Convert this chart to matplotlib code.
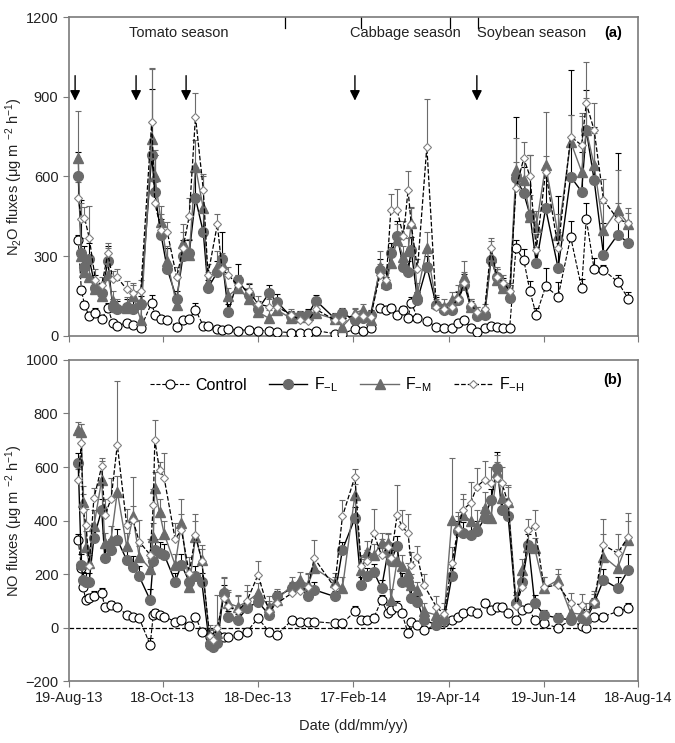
import numpy as np
import pandas as pd
import matplotlib
matplotlib.use("Agg")
import matplotlib.pyplot as plt
import matplotlib.dates as mdates

plt.rcParams["font.family"] = ["Liberation Sans", "DejaVu Sans"]
plt.rcParams["mathtext.default"] = "regular"

# %% data (sampling day = days after 19-Aug-13)
start = pd.Timestamp("2013-08-19")
tick_dates = ["2013-08-19", "2013-10-18", "2013-12-18", "2014-02-17",
              "2014-04-19", "2014-06-19", "2014-08-18"]

days_a = [6, 8, 10, 13, 17, 21, 25, 28, 31, 37, 41, 46, 53, 55, 59, 63, 69, 73, 77, 81,
          86, 89, 95, 98, 102, 108, 115, 121, 128, 133, 142, 148, 153, 158, 170, 175, 183, 188, 193, 199,
          203, 206, 210, 214, 217, 219, 223, 229, 235, 240, 245, 249, 253, 257, 261, 266, 270, 274, 278, 282,
          286, 291, 295, 299, 305, 313, 321, 328, 331, 336, 342, 351, 358]

n2o_control = [361, 173, 117, 75, 86, 64, 105, 49, 38, 49, 41, 30, 125, 79, 64, 60, 35, 60, 64, 98,
               38, 38, 26, 23, 26, 20, 23, 20, 20, 16, 12, 10, 10, 20, 8, 8, 26, 20, 30, 105,
               98, 105, 79, 98, 68, 125, 68, 57, 34, 30, 30, 49, 60, 30, 15, 30, 38, 34, 30, 30,
               330, 286, 167, 79, 186, 148, 372, 180, 440, 252, 248, 204, 139]
n2o_fl = [602, 310, 260, 290, 180, 160, 280, 110, 100, 110, 100, 120, 680, 540, 380, 250, 140, 300, 310, 518,
          390, 180, 240, 290, 90, 210, 155, 100, 160, 129, 73, 73, 80, 133, 66, 85, 60, 66, 79, 248,
          192, 311, 374, 261, 240, 323, 135, 261, 117, 98, 98, 135, 192, 110, 73, 79, 286, 223, 186, 142,
          593, 537, 455, 273, 480, 255, 599, 543, 775, 587, 305, 380, 351]
n2o_fm = [668, 300, 240, 220, 175, 150, 230, 130, 110, 105, 150, 60, 740, 600, 430, 280, 115, 350, 305, 636,
          480, 200, 260, 270, 150, 180, 140, 90, 66, 98, 66, 70, 79, 85, 63, 35, 85, 98, 60, 261,
          198, 273, 361, 298, 320, 424, 160, 330, 123, 110, 135, 150, 223, 110, 90, 90, 298, 211, 180, 160,
          624, 587, 449, 411, 643, 380, 731, 618, 775, 643, 399, 474, 420]
n2o_fh = [520, 440, 445, 370, 210, 190, 310, 215, 220, 175, 160, 170, 805, 500, 400, 390, 220, 330, 450, 825,
          550, 230, 420, 250, 230, 190, 170, 120, 110, 110, 80, 60, 55, 100, 60, 60, 80, 75, 70, 230,
          210, 474, 474, 374, 549, 420, 250, 712, 110, 100, 110, 140, 200, 120, 90, 100, 330, 220, 200, 170,
          555, 668, 600, 324, 618, 330, 750, 718, 875, 775, 512, 440, 424]

n2o_control_err = [20, 15, 15, 15, 20, 10, 20, 10, 10, 10, 10, 10, 30, 15, 10, 10, 10, 10, 10, 25,
                   10, 10, 8, 8, 8, 6, 6, 6, 6, 6, 5, 5, 5, 6, 4, 4, 6, 6, 6, 15,
                   10, 15, 12, 15, 10, 20, 10, 8, 6, 6, 6, 10, 10, 6, 6, 6, 6, 6, 6, 6,
                   30, 40, 40, 25, 70, 55, 60, 35, 60, 40, 20, 25, 25]
n2o_fl_err = [90, 200, 80, 60, 50, 40, 60, 30, 30, 30, 40, 30, 250, 140, 60, 80, 30, 60, 50, 110,
              80, 30, 40, 100, 30, 60, 40, 30, 30, 30, 20, 20, 20, 20, 20, 20, 20, 20, 20, 40,
              30, 40, 60, 40, 40, 50, 30, 40, 30, 20, 20, 30, 40, 20, 20, 20, 50, 30, 30, 30,
              230, 100, 225, 60, 150, 270, 400, 150, 150, 200, 120, 310, 80]
n2o_fm_err = [180, 70, 60, 50, 40, 40, 100, 40, 30, 40, 40, 40, 270, 100, 60, 60, 40, 70, 60, 100,
              130, 40, 60, 40, 30, 50, 40, 30, 30, 30, 20, 20, 20, 20, 20, 20, 20, 20, 20, 60,
              40, 60, 60, 40, 50, 60, 40, 60, 30, 30, 30, 40, 60, 30, 20, 20, 60, 40, 30, 30,
              120, 80, 80, 60, 200, 80, 100, 210, 120, 120, 100, 150, 60]
n2o_fh_err = [60, 60, 40, 120, 40, 30, 40, 30, 30, 30, 40, 40, 200, 80, 60, 40, 40, 60, 70, 90,
              50, 40, 40, 40, 30, 40, 30, 30, 30, 20, 20, 20, 20, 20, 20, 20, 20, 20, 20, 40,
              40, 60, 80, 60, 70, 60, 40, 180, 30, 20, 20, 30, 40, 20, 20, 20, 40, 40, 30, 30,
              100, 60, 80, 60, 60, 60, 80, 120, 157, 100, 80, 60, 40]

days_b = [6, 8, 9, 11, 13, 16, 21, 23, 27, 31, 37, 41, 45, 52, 54, 55, 58, 61, 68, 72,
          77, 81, 85, 90, 92, 95, 99, 102, 108, 114, 121, 128, 133, 143, 148, 153, 157, 170, 175, 183,
          187, 191, 195, 200, 204, 206, 210, 213, 217, 219, 223, 227, 235, 240, 245, 249, 252, 257, 261, 266,
          270, 274, 277, 281, 286, 290, 294, 298, 304, 313, 321, 328, 331, 336, 342, 351, 358]

no_control = [328, 223, 150, 103, 110, 116, 128, 78, 85, 78, 47, 41, 35, -65, 47, 55, 47, 41, 22, 29,
              4, 41, -15, -34, -40, -27, -34, -34, -27, -15, 35, -15, -27, 29, 22, 22, 22, 16, 16, 60,
              29, 29, 35, 103, 54, 66, 78, 54, -21, 22, 10, -9, 10, 22, 29, 41, 54, 60, 54, 91,
              66, 78, 78, 54, 29, 66, 72, 29, 16, -2, 29, 4, -2, 41, 41, 60, 72]
no_fl = [614, 234, 178, 172, 172, 334, 440, 259, 290, 328, 253, 228, 191, 103, 250, 290, 280, 272, 172, 234,
         172, 191, 172, -65, -71, -59, 130, 41, 29, 72, 97, 47, 116, 147, 150, 116, 141, 116, 290, 409,
         160, 191, 209, 147, 278, 250, 303, 172, 172, 110, 97, 29, 10, 29, 191, 359, 353, 346, 359, 409,
         477, 596, 440, 415, 91, 172, 309, 91, 47, 35, 29, 35, 29, 91, 178, 147, 216]
no_fm = [739, 732, 470, 300, 240, 378, 552, 315, 328, 508, 303, 415, 265, 220, 340, 521, 430, 350, 234, 390,
         153, 340, 253, -40, -50, -20, 135, 91, 78, 97, 128, 78, 103, 160, 178, 160, 222, 172, 147, 496,
         215, 284, 271, 315, 315, 103, 250, 230, 203, 160, 141, 60, 47, 41, 402, 378, 421, 400, 378, 446,
         409, 583, 483, 471, 103, 215, 300, 296, 147, 178, 54, 50, 40, 97, 265, 222, 328]
no_fh = [552, 689, 440, 384, 230, 483, 602, 420, 480, 683, 384, 402, 321, 272, 458, 701, 589, 558, 330, 365,
         203, 346, 250, -30, -45, 0, 110, 80, 60, 100, 197, 60, 90, 130, 135, 153, 259, 150, 415, 564,
         230, 250, 353, 270, 300, 260, 421, 378, 353, 234, 265, 160, 78, 50, 240, 370, 440, 465, 527, 552,
         540, 560, 540, 465, 80, 153, 365, 378, 150, 160, 90, 85, 50, 95, 309, 278, 340]

no_control_err = [20, 15, 15, 15, 15, 20, 20, 15, 15, 15, 10, 10, 10, 25, 15, 15, 10, 10, 10, 10,
                  10, 10, 15, 10, 10, 10, 10, 10, 10, 10, 15, 10, 10, 10, 10, 10, 10, 10, 10, 20,
                  15, 15, 15, 20, 15, 20, 20, 15, 15, 15, 10, 10, 10, 10, 10, 10, 10, 10, 10, 15,
                  15, 15, 15, 10, 10, 15, 15, 10, 10, 10, 10, 10, 10, 10, 15, 15, 20]
no_fl_err = [40, 40, 30, 30, 30, 40, 40, 40, 40, 40, 40, 40, 40, 40, 40, 40, 40, 40, 30, 40,
             30, 40, 30, 20, 20, 20, 30, 20, 20, 20, 20, 20, 20, 20, 20, 20, 30, 20, 30, 40,
             30, 30, 30, 30, 40, 40, 40, 30, 30, 30, 20, 20, 20, 20, 30, 40, 40, 40, 40, 40,
             40, 60, 40, 40, 30, 30, 40, 30, 20, 20, 20, 20, 20, 20, 40, 40, 60]
no_fm_err = [30, 30, 60, 60, 40, 60, 70, 40, 50, 60, 50, 40, 40, 40, 50, 60, 50, 50, 40, 90,
             40, 60, 40, 30, 30, 30, 50, 40, 40, 40, 40, 40, 40, 30, 30, 40, 40, 30, 40, 40,
             40, 40, 40, 40, 40, 40, 40, 40, 40, 40, 30, 30, 30, 30, 230, 40, 60, 60, 60, 60,
             60, 60, 60, 60, 30, 40, 60, 40, 40, 40, 30, 30, 30, 30, 140, 70, 100]
no_fh_err = [40, 70, 60, 60, 40, 40, 30, 60, 80, 240, 60, 160, 80, 60, 60, 75, 30, 95, 60, 60,
             60, 80, 60, 40, 40, 120, 80, 60, 60, 60, 50, 40, 40, 40, 40, 50, 70, 40, 60, 30,
             40, 40, 90, 60, 50, 50, 110, 60, 70, 50, 40, 40, 40, 40, 60, 60, 60, 80, 70, 70,
             60, 60, 60, 60, 40, 60, 40, 60, 40, 40, 40, 40, 40, 40, 40, 70, 60]

season_marks = [138, 187, 244, 262]
fert_days = [4, 43, 75, 183, 261]
season_labels = [("Tomato season", 70), ("Cabbage season", 215), ("Soybean season", 296)]

# %%
grey = "#6b6b6b"
styles = {
    "Control": dict(color="black", ls="--", lw=0.8, marker="o", ms=6.5, mfc="white", mec="black", mew=0.8),
    "F-L": dict(color="black", ls="-", lw=1.0, marker="o", ms=7, mfc=grey, mec=grey),
    "F-M": dict(color=grey, ls="-", lw=1.0, marker="^", ms=7, mfc=grey, mec=grey),
    "F-H": dict(color="black", ls="--", lw=0.9, marker="D", ms=4.5, mfc="white", mec="#808080", mew=0.8),
}
err_colors = {"Control": "black", "F-L": "black", "F-M": grey, "F-H": grey}
labels = {"Control": "Control", "F-L": r"F$_{-L}$", "F-M": r"F$_{-M}$", "F-H": r"F$_{-H}$"}


def to_dates(days):
    return start + pd.to_timedelta(days, unit="D")


def draw(ax, days, series):
    x = to_dates(days)
    for key, (vals, err) in series.items():
        ax.errorbar(x, vals, yerr=[np.zeros(len(err)), err], fmt="none",
                    ecolor=err_colors[key], elinewidth=0.8, capsize=2.5, capthick=0.8, zorder=2)
        ax.plot(x, vals, label=labels[key], zorder=3, **styles[key])


def style_axes(ax):
    for s in ax.spines.values():
        s.set_color("#7a7a7a")
        s.set_linewidth(1.2)
    ax.tick_params(direction="out", color="#7a7a7a", labelsize=10.5, labelcolor="#222222", length=4)
    ax.set_xlim(pd.Timestamp(tick_dates[0]), pd.Timestamp(tick_dates[-1]))
    ax.set_xticks(pd.to_datetime(tick_dates))
    ax.xaxis.set_major_formatter(mdates.DateFormatter("%d-%b-%y"))
    ax.yaxis.set_label_coords(-0.077, 0.5)


fig = plt.figure(figsize=(6.75, 7.43), dpi=100)
ax1 = fig.add_axes([0.102, 0.548, 0.843, 0.429])
ax2 = fig.add_axes([0.102, 0.0834, 0.843, 0.4321])

# panel a
draw(ax1, days_a, {"Control": (n2o_control, n2o_control_err),
                   "F-L": (n2o_fl, n2o_fl_err),
                   "F-M": (n2o_fm, n2o_fm_err),
                   "F-H": (n2o_fh, n2o_fh_err)})
style_axes(ax1)
ax1.set_ylim(0, 1200)
ax1.set_yticks(range(0, 1201, 300))
ax1.tick_params(labelbottom=False)
ax1.set_ylabel(r"N$_2$O fluxes (μg m $^{-2}$ h$^{-1}$)", fontsize=10.5, color="#222222")
for d in season_marks:
    ax1.plot(to_dates([d, d]), [1200, 1160], color="black", lw=0.9)
for d in fert_days:
    ax1.annotate("", xy=(to_dates([d])[0], 875), xytext=(to_dates([d])[0], 990),
                 arrowprops=dict(arrowstyle="-|>", color="black", lw=1.0, mutation_scale=15))
for txt, d in season_labels:
    ax1.text(to_dates([d])[0], 1140, txt, ha="center", va="center", fontsize=10.5, color="#222222")
ax1.text(to_dates([348])[0], 1140, "(a)", ha="center", va="center", fontsize=10.5, fontweight="bold")

# panel b
draw(ax2, days_b, {"Control": (no_control, no_control_err),
                   "F-L": (no_fl, no_fl_err),
                   "F-M": (no_fm, no_fm_err),
                   "F-H": (no_fh, no_fh_err)})
style_axes(ax2)
ax2.axhline(0, color="black", ls="--", lw=0.9, zorder=1)
ax2.set_ylim(-200, 1000)
ax2.set_yticks(range(-200, 1001, 200))
ax2.set_ylabel(r"NO fluxes (μg m $^{-2}$ h$^{-1}$)", fontsize=10.5, color="#222222")
ax2.set_xlabel("Date (dd/mm/yy)", fontsize=10.5, color="#222222", labelpad=10)
ax2.text(to_dates([348])[0], 925, "(b)", ha="center", va="center", fontsize=10.5, fontweight="bold")
ax2.legend(loc="center", bbox_to_anchor=(0.472, 0.922), ncol=4, frameon=False, fontsize=11.5,
           handlelength=2.4, columnspacing=1.4, handletextpad=0.4)

fig.savefig("out.png", dpi=100)
